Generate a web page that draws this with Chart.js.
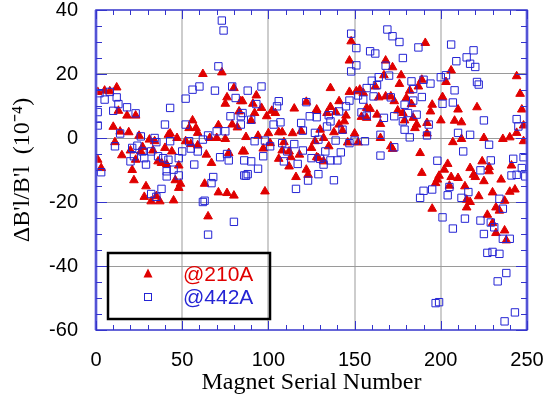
<!DOCTYPE html>
<html><head><meta charset="utf-8">
<script src="https://cdn.jsdelivr.net/npm/chart.js@4.4.1/dist/chart.umd.min.js"></script>
<style>html,body{margin:0;padding:0;background:#fff}</style>
</head><body>
<canvas id="c" width="545" height="397"></canvas>
<script>
// [serial number, ΔB'l/B'l (1e-4)] at 210 A
const obs210 = [[1,14.4],[5,14.8],[8,14.6],[12,15.8],[13,8.5],[18,7],[23,7],[10,3.5],[14,2],[19,1.8],[25,0.7],[11,-1.3],[15,-5.4],[20,-3.9],[1,-6.8],[3,-9.4],[27,-2.8],[31,-0.5],[34,-1],[33,-3.9],[23,-6.8],[21,-10],[22,-13.2],[29,-15.1],[28,-18.4],[32,-19.8],[37,-19.8],[35,-18.2],[36,-7.3],[38,-7.8],[41,-8.3],[42,1],[26,-4.2],
[62,20],[73,20.5],[80,15.6],[76,12.7],[75,10.7],[84,11.5],[83,8.3],[56,5.5],[54,3.1],[58,3.1],[71,4],[79,4.2],[82,3.3],[43,1.4],[47,0],[59,1.6],[66,0],[70,0],[75,-0.3],[52,-1],[55,-1.9],[59,-2.3],[40,-3.1],[44,-4.2],[64,-5.2],[67,-7.8],[77,-4.7],[85,-4.2],[48,-8.6],[46,-13.2],[49,-14.3],[48,-15.6],[63,-14.3],[71,-17],[76,-17.2],[80,-18],[45,-19.5],[65,-24.5],
[93,13.3],[85,11.5],[91,10.7],[96,9.4],[92,7.8],[90,5.4],[99,6.8],[102,8.5],[104,7.8],[115,9.2],[122,11.3],[128,8.5],[87,0.3],[94,0.7],[100,1.5],[106,1.8],[108,1.8],[114,1.5],[119,2.1],[86,-4.2],[97,-3.3],[101,-1.6],[109,-1.3],[108,-3.9],[112,-4.2],[118,-5.2],[106,-6.5],[113,-6],[125,-3.1],[129,-6.3],[112,-8.9],[122,-9.9],[123,-11.5],[116,-12.2],[98,-16.7],[127,-1],
[148,30.2],[147,24.2],[168,24.2],[172,22.1],[167,19.6],[136,15.6],[147,14.4],[151,14.6],[153,15.1],[155,14.1],[162,16.1],[164,12.7],[168,13],[171,13],[173,11.5],[141,11.5],[136,9.7],[128,8.9],[134,7.8],[139,8.1],[145,7],[157,9.4],[159,9.1],[154,6.6],[157,6.3],[163,7.3],[144,5.2],[141,4.2],[165,4.4],[130,2.6],[138,1.8],[143,2.3],[150,1.4],[165,0],[132,0],[146,-1.4],[152,-1.4],[135,-2.6],[171,-2.6],[172,-3.4],[128,-6],[132,-7.3],
[191,29.7],[177,19.6],[176,16.9],[189,18.2],[187,16.1],[206,21.1],[203,17.5],[182,14.8],[201,12.8],[180,12.5],[183,10.6],[195,10.4],[194,8.3],[210,8.9],[175,8.6],[178,7.8],[184,6.3],[179,5.5],[200,5.5],[208,5.4],[212,4.9],[186,4.2],[185,3.1],[192,4.7],[192,1.4],[212,-0.3],[207,-1.3],[188,-4.7],[189,-10.9],[204,-8.1],[202,-9.9],[199,-11.8],[198,-13],[197,-14.1],[206,-12.2],[210,-12.5],[205,-14.9],[214,-15.1],[215,-19.3],[217,-20],[215,-21.7],[195,-22.1],[217,-9.4],
[244,19.3],[246,13.8],[247,8.9],[248,3.9],[244,1.6],[248,-1],[221,9.6],[225,0],[236,-0.3],[240,0.2],[224,-7.3],[228,-9.1],[228,-10.4],[219,-11.5],[220,-12.2],[235,-13],[225,-13.5],[241,-8.6],[230,-17],[240,-16.8],[243,-16.1],[222,-18.2],[232,-21.7],[234,-22.7],[237,-19.6],[227,-24],[230,-26.6],[232,-29.7],[237,-28.9],[238,-32]];

// [serial number, ΔB'l/B'l (1e-4)] at 442 A
const obs442 = [[2,14],[5,12],[8,14.4],[12,12.7],[13,10.6],[18,9.6],[23,7.7],[1,8.1],[10,8.5],[1,3.9],[14,1.4],[26,0.5],[34,0],[35,-1.3],[40,4.2],[43,9.4],[43,-1],[11,-2.6],[21,-3.1],[24,-2.4],[32,-4.2],[36,-5.7],[22,-5.7],[20,-7.3],[28,-6.3],[29,-8.3],[42,-6.8],[41,-10.4],[3,-10.7],[38,-15.9],[32,-17.5],[35,-18.4],[27,-4.2],[39,-6.3],
[73,36.7],[74,33.6],[71,22.4],[60,16.1],[56,15.1],[69,14.8],[79,16.1],[52,12.3],[81,12.5],[78,6.8],[84,6.8],[52,4.2],[84,4.2],[75,2.1],[70,2.1],[65,0.8],[62,-0.5],[54,-1],[50,-4.2],[55,-3.3],[59,-4.2],[48,-6.3],[57,-8.3],[72,-6],[76,-5],[77,-7],[45,-9.9],[48,-11.7],[41,-12],[68,-12.2],[67,-14.1],[86,-11.7],[63,-19.6],[62,-20],[80,-26.2],[65,-30.2],
[96,16.1],[88,14.8],[93,10.6],[85,7.8],[90,5.7],[106,11.5],[105,9.9],[107,4.9],[103,4.2],[122,11.2],[124,6.8],[128,6.5],[119,4.7],[120,2.3],[127,1.6],[92,-1],[98,-0.8],[101,-2.6],[108,-1.6],[115,-1.9],[120,-3.9],[125,-6.3],[86,-7],[90,-7.3],[97,-5.7],[111,-4.2],[109,-7.3],[117,-8.1],[94,-9.6],[87,-11.8],[88,-11.3],[123,-13.3],[116,-15.9],[129,-11.3],
[148,32.6],[151,28.1],[169,33.9],[172,31.8],[159,27.1],[162,26.4],[151,22.7],[148,20.8],[168,22.6],[170,19.5],[160,17.9],[164,19],[157,15.6],[163,16.5],[152,13.3],[155,12],[147,11.7],[145,9.9],[141,8.3],[135,7.1],[136,5.2],[134,3.6],[154,8],[157,7],[161,13],[167,6.3],[171,12.7],[173,6.8],[143,2.6],[165,1],[139,-0.8],[129,-0.5],[150,-0.8],[156,-1],[147,-1.6],[133,-4.2],[142,-4.5],[165,-5.5],[173,-2.9],[136,-7],[140,-7],[130,-6.5],[132,-8.3],[138,-13.2],
[176,30],[187,28.3],[206,29.2],[178,25],[209,24],[215,25.2],[217,23.2],[183,17.7],[190,18.2],[194,17],[200,19],[203,19.6],[208,14.9],[184,15.3],[189,12.8],[184,11.7],[179,10.4],[201,10.7],[207,11.1],[181,7.8],[186,7.3],[178,5.2],[179,2.6],[193,4.2],[192,0.8],[182,0.2],[210,1.6],[217,1],[213,-4.2],[198,-7.1],[195,-16.1],[190,-16.5],[188,-18.7],[205,-15.3],[204,-17.9],[212,-18.7],[216,-16.9],[201,-24.8],[207,-28.3],[214,-25.2],[197,-51.6],[199,-51.3],
[219,27.4],[220,22.2],[221,17.5],[222,16.7],[225,5.5],[244,5.9],[245,3.6],[228,-2.1],[229,-7],[242,-6.5],[248,-6],[247,-9.4],[223,-10.1],[241,-11.7],[244,-11.5],[249,-12],[234,-19],[236,-22.1],[223,-25.8],[229,-26.4],[231,-27.9],[225,-30],[236,-31.5],[240,-31.5],[227,-35.9],[230,-35.6],[234,-36.2],[238,-42.2],[233,-44.8],[243,-54.5],[237,-57.3]];

const seriesNames = ['@210A', '@442A'];
const xRange = [0, 250], xMajor = 50, xMinor = 10;
const yRange = [-60, 40], yMajor = 20, yMinor = 5;

const RED = '#e00000', BLUE = '#2424d4', FRAME = '#3434cc', FRAME_LIGHT = 'rgba(120,120,235,0.55)';

const framePlugin = {
  id: 'frame',
  afterDatasetsDraw(chart) {
    const {ctx, chartArea: a, scales: {x, y}} = chart;
    ctx.save();
    // light side bands
    ctx.strokeStyle = FRAME_LIGHT;
    ctx.lineWidth = 3.5;
    ctx.beginPath();
    ctx.moveTo(a.left, a.top); ctx.lineTo(a.left, a.bottom);
    ctx.moveTo(a.right, a.top); ctx.lineTo(a.right, a.bottom);
    ctx.stroke();
    ctx.strokeStyle = FRAME;
    ctx.lineWidth = 1;
    ctx.beginPath();
    for (let v = xRange[0]; v <= xRange[1]; v += xMinor) {
      const px = Math.round(x.getPixelForValue(v)) + 0.5;
      const len = (v % xMajor === 0) ? 9 : 5;
      ctx.moveTo(px, a.bottom); ctx.lineTo(px, a.bottom - len);
      ctx.moveTo(px, a.top); ctx.lineTo(px, a.top + len);
    }
    for (let v = yRange[0]; v <= yRange[1]; v += yMinor) {
      const py = Math.round(y.getPixelForValue(v)) + 0.5;
      const len = (v % yMajor === 0) ? 11 : 6;
      ctx.moveTo(a.left, py); ctx.lineTo(a.left + len, py);
      ctx.moveTo(a.right, py); ctx.lineTo(a.right - len, py);
    }
    ctx.stroke();
    ctx.lineWidth = 1.5;
    ctx.strokeRect(a.left, a.top, a.right - a.left, a.bottom - a.top);
    // legend
    ctx.lineWidth = 2.5;
    ctx.strokeStyle = '#000';
    ctx.strokeRect(108, 253, 162, 66);
    ctx.fillStyle = RED;
    ctx.beginPath();
    ctx.moveTo(148, 268.5); ctx.lineTo(152.5, 277.5); ctx.lineTo(143.5, 277.5); ctx.closePath();
    ctx.fill();
    ctx.strokeStyle = BLUE; ctx.lineWidth = 1;
    ctx.strokeRect(144.5, 293.5, 7, 7);
    ctx.font = '21px "Liberation Sans", Arial, sans-serif';
    ctx.textBaseline = 'middle';
    ctx.textAlign = 'left';
    ctx.fillStyle = RED;
    ctx.fillText(seriesNames[0], 183, 275);
    ctx.fillStyle = BLUE;
    ctx.fillText(seriesNames[1], 183, 298);
    ctx.restore();
  }
};

new Chart(document.getElementById('c'), {
  type: 'scatter',
  data: {
    datasets: [
      { label: seriesNames[0], data: obs210.map(p => ({x: p[0], y: p[1]})),
        pointStyle: 'triangle', pointRadius: 5, backgroundColor: RED, borderColor: RED, borderWidth: 1, order: 2 },
      { label: seriesNames[1], data: obs442.map(p => ({x: p[0], y: p[1]})),
        pointStyle: 'rect', pointRadius: 5.2, backgroundColor: 'rgba(0,0,0,0)', borderColor: BLUE, borderWidth: 1, order: 1 }
    ]
  },
  options: {
    responsive: false, animation: false, devicePixelRatio: 1,
    layout: { padding: { top: 10, right: 18, left: 0, bottom: 0 } },
    plugins: { legend: { display: false }, tooltip: { enabled: false } },
    scales: {
      x: {
        type: 'linear', min: xRange[0], max: xRange[1], position: 'bottom',
        ticks: { stepSize: xMajor, padding: 18, color: '#000', maxRotation: 0, autoSkip: false,
                 font: { family: '"Liberation Sans", Arial, sans-serif', size: 20 } },
        grid: { drawTicks: false, lineWidth: 2,
                color: c => (c.tick && c.tick.value > xRange[0] && c.tick.value < xRange[1]) ? '#cdcdcd' : 'rgba(0,0,0,0)' },
        border: { display: false },
        title: { display: true, text: 'Magnet Serial Number', color: '#000',
                 font: { family: '"Liberation Serif", "Times New Roman", serif', size: 24 }, padding: { top: 0, bottom: 0 } },
        afterFit: s => { s.height = 67; s.paddingLeft = 0; s.paddingRight = 0; }
      },
      y: {
        type: 'linear', min: yRange[0], max: yRange[1], position: 'left',
        ticks: { stepSize: yMajor, padding: 18, color: '#000',
                 font: { family: '"Liberation Sans", Arial, sans-serif', size: 20 } },
        grid: { drawTicks: false, lineWidth: 1,
                color: c => (c.tick && c.tick.value > yRange[0] && c.tick.value < yRange[1]) ? '#9a9a9a' : 'rgba(0,0,0,0)' },
        border: { display: false },
        title: { display: true, text: "ΔB'l/B'l  (10⁻⁴)", color: '#000',
                 font: { family: '"Liberation Serif", "Times New Roman", serif', size: 24 }, padding: { top: 8, bottom: 0 } },
        afterFit: s => { s.width = 96; s.paddingTop = 0; s.paddingBottom = 0; }
      }
    }
  },
  plugins: [framePlugin]
});
</script>
</body></html>
